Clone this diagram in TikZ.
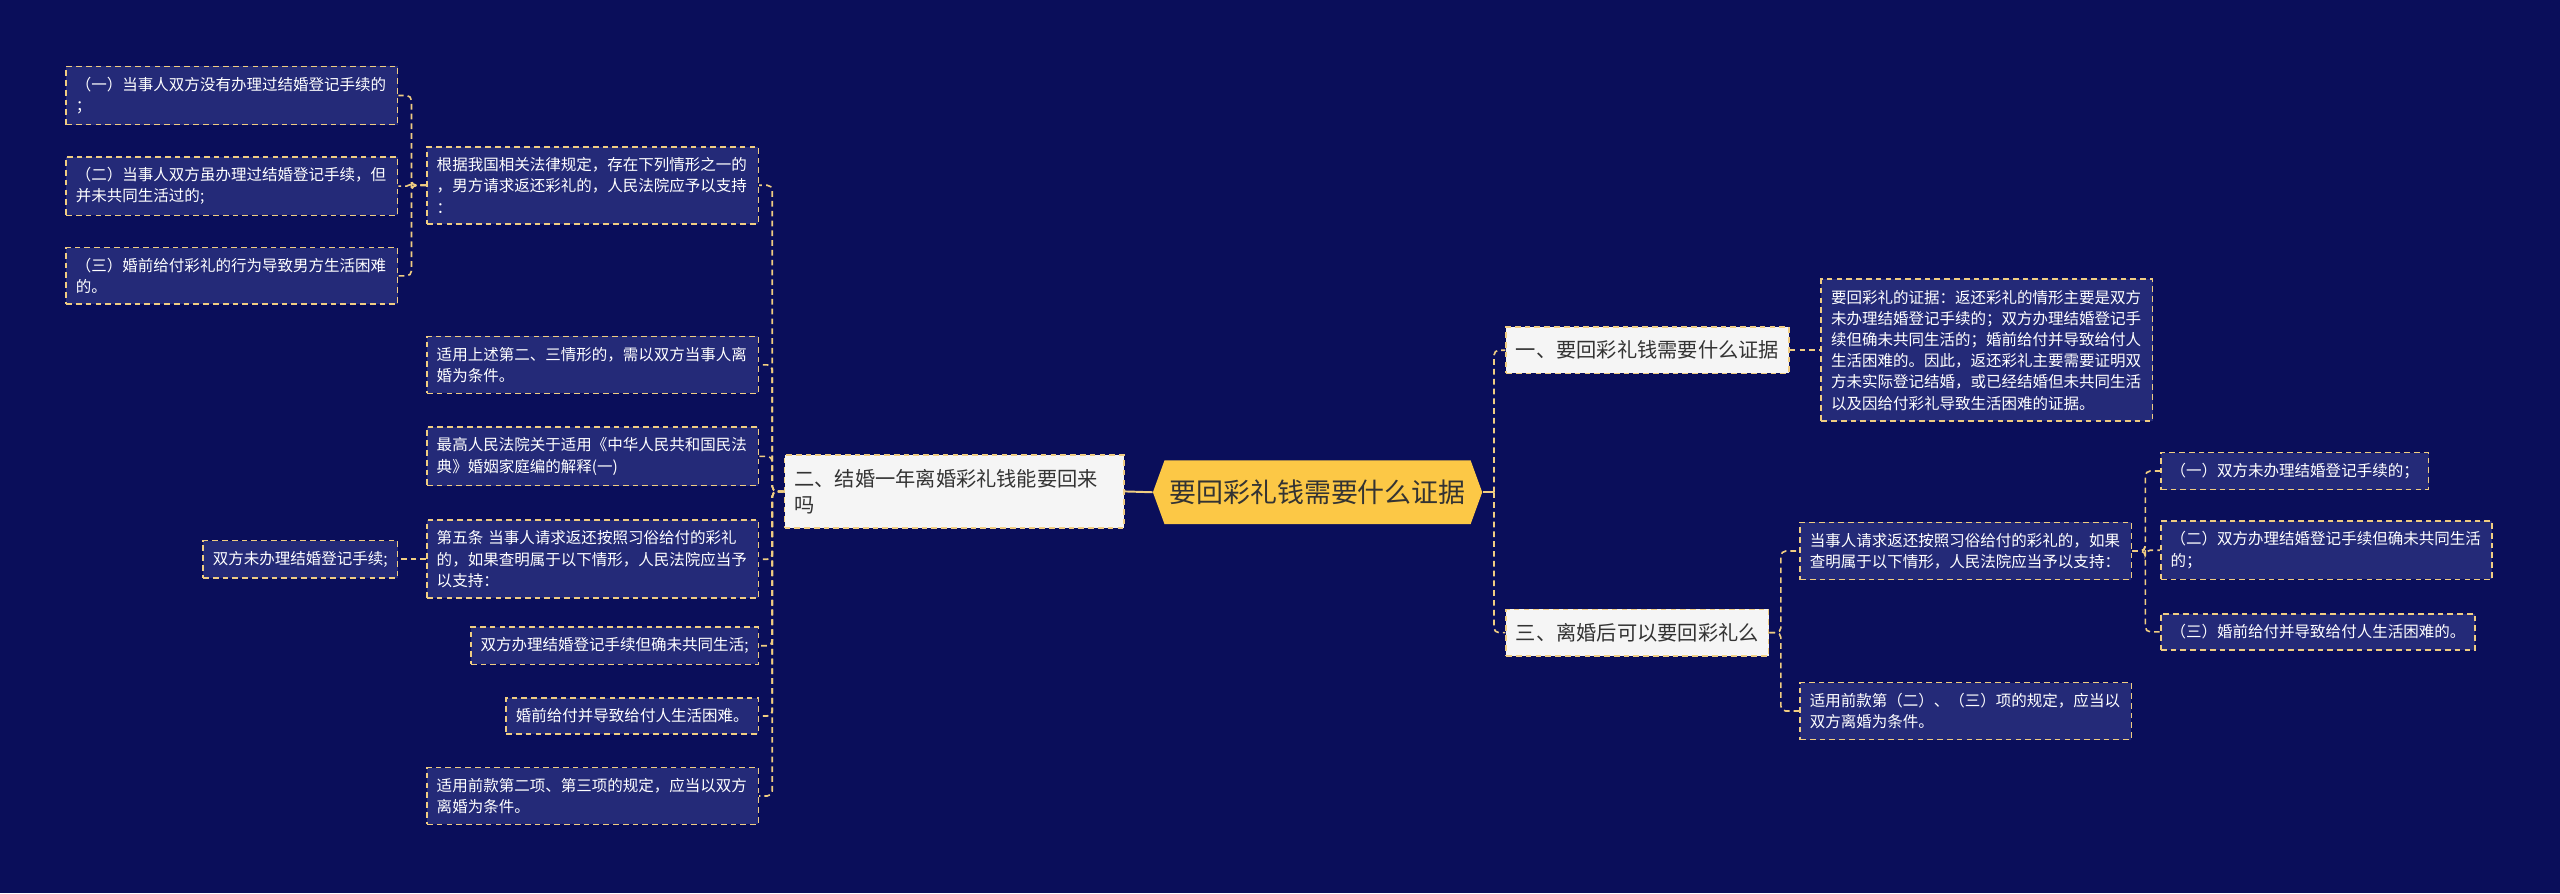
\documentclass[tikz,border=0pt]{standalone}
\usepackage{fontspec}
\setmainfont{Noto Sans CJK SC}
\usetikzlibrary{shapes.symbols}
\definecolor{bgblue}{RGB}{10,14,90}
\definecolor{leafblue}{RGB}{36,42,120}
\definecolor{lineyel}{RGB}{240,205,130}
\definecolor{rootyel}{RGB}{252,200,70}
\definecolor{branchgray}{RGB}{245,245,245}
\definecolor{textdark}{RGB}{51,51,51}
\tikzset{
  leaf/.style={draw=lineyel,fill=leafblue,text=white,dash pattern=on 3.5pt off 2.5pt,
    line width=1pt,align=left,inner xsep=6pt,inner ysep=6.5pt,
    font=\fontsize{9.5}{13}\selectfont},
  branch/.style={draw=lineyel,fill=branchgray,text=textdark,dash pattern=on 3.5pt off 2.5pt,
    line width=1pt,align=left,inner xsep=6pt,inner ysep=8.5pt,
    font=\fontsize{12.4}{16}\selectfont},
  rootnode/.style={signal,signal to=west and east,signal pointer angle=140,
    fill=rootyel,text=textdark,minimum height=39pt,inner xsep=3pt,
    font=\fontsize{16.5}{20}\selectfont},
  link/.style={draw=lineyel,line width=1pt,dash pattern=on 3.5pt off 2.5pt,rounded corners=3pt},
}
\begin{document}
\begin{tikzpicture}[x=1pt,y=-1pt]
  \fill[bgblue] (0,0) rectangle (1568,547);
  \useasboundingbox (0,0) rectangle (1568,547);

  % centre
  \node[rootnode] (root) at (807,301.5) {要回彩礼钱需要什么证据};

  % left branch
  \node[branch,anchor=east,text width=196pt] (b2) at (689,301)
    {二、结婚一年离婚彩礼钱能要回来\\吗};
  \node[leaf,anchor=east,text width=191pt] (p1) at (465,113.5)
    {根据我国相关法律规定，存在下列情形之一的\\，男方请求返还彩礼的，人民法院应予以支持\\：};
  \node[leaf,anchor=east,text width=191pt] (p2) at (465,223.5)
    {适用上述第二、三情形的，需以双方当事人离\\婚为条件。};
  \node[leaf,anchor=east,text width=191pt] (p3) at (465,279.5)
    {最高人民法院关于适用《中华人民共和国民法\\典》婚姻家庭编的解释(一)};
  \node[leaf,anchor=east,text width=191pt] (p4) at (465,342.5)
    {第五条 当事人请求返还按照习俗给付的彩礼\\的，如果查明属于以下情形，人民法院应当予\\以支持：};
  \node[leaf,anchor=east] (p5) at (465,395.5) {双方办理结婚登记手续但确未共同生活;};
  \node[leaf,anchor=east] (p6) at (465,438.5) {婚前给付并导致给付人生活困难。};
  \node[leaf,anchor=east,text width=191pt] (p7) at (465,487.5)
    {适用前款第二项、第三项的规定，应当以双方\\离婚为条件。};
  \node[leaf,anchor=east,text width=191pt] (l1) at (244,58.5)
    {（一）当事人双方没有办理过结婚登记手续的\\；};
  \node[leaf,anchor=east,text width=191pt] (l2) at (244,114)
    {（二）当事人双方虽办理过结婚登记手续，但\\并未共同生活过的;};
  \node[leaf,anchor=east,text width=191pt] (l3) at (244,169)
    {（三）婚前给付彩礼的行为导致男方生活困难\\的。};
  \node[leaf,anchor=east] (q1) at (244,342.5) {双方未办理结婚登记手续;};

  % right branches
  \node[branch,anchor=west] (b1) at (922,214.5) {一、要回彩礼钱需要什么证据};
  \node[leaf,anchor=west,text width=191pt] (r1) at (1115,214.5)
    {要回彩礼的证据：返还彩礼的情形主要是双方\\未办理结婚登记手续的；双方办理结婚登记手\\续但确未共同生活的；婚前给付并导致给付人\\生活困难的。因此，返还彩礼主要需要证明双\\方未实际登记结婚，或已经结婚但未共同生活\\以及因给付彩礼导致生活困难的证据。};
  \node[branch,anchor=west] (b3) at (922,387.5) {三、离婚后可以要回彩礼么};
  \node[leaf,anchor=west,text width=191pt] (r2) at (1102,337.5)
    {当事人请求返还按照习俗给付的彩礼的，如果\\查明属于以下情形，人民法院应当予以支持：};
  \node[leaf,anchor=west,text width=191pt] (r3) at (1102,435.5)
    {适用前款第（二）、（三）项的规定，应当以\\双方离婚为条件。};
  \node[leaf,anchor=west] (s1) at (1323,288.5) {（一）双方未办理结婚登记手续的；};
  \node[leaf,anchor=west,text width=191pt] (s2) at (1323,337)
    {（二）双方办理结婚登记手续但确未共同生活\\的；};
  \node[leaf,anchor=west] (s3) at (1323,387) {（三）婚前给付并导致给付人生活困难的。};

  \begin{scope}[link]
    \draw[solid,line width=1.2pt] (root.west) -- (b2.east);
    \draw[solid,line width=1.2pt] (root.east) -- ++(7,0);
    \draw (root.east) ++(7,0) |- (b1.west);
    \draw (root.east) ++(7,0) |- (b3.west);
    \foreach \c in {p1,p2,p3,p4,p5,p6,p7}
      \draw (b2.west) -- ++(-7,0) |- (\c.east);
    \foreach \c in {l1,l2,l3}
      \draw (p1.west) -- ++(-9,0) |- (\c.east);
    \draw (p4.west) -- (q1.east);
    \draw (b1.east) -- (r1.west);
    \foreach \c in {r2,r3}
      \draw (b3.east) -- ++(7,0) |- (\c.west);
    \foreach \c in {s1,s2,s3}
      \draw (r2.east) -- ++(8,0) |- (\c.west);
  \end{scope}
\end{tikzpicture}
\end{document}
